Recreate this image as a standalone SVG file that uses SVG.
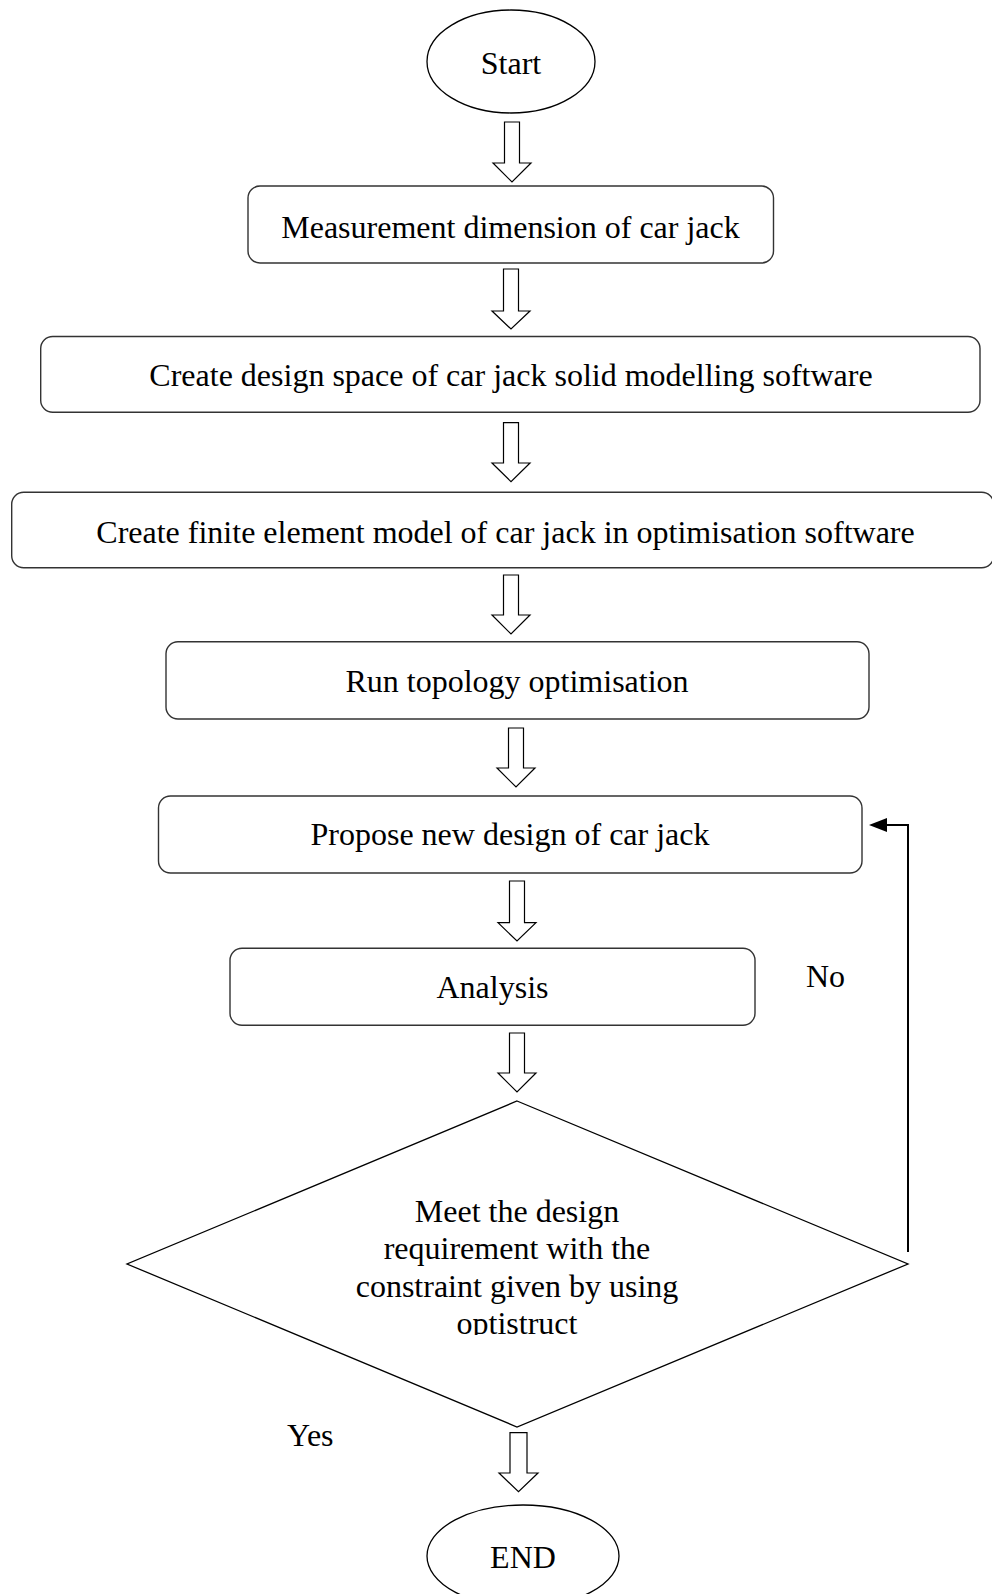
<svg xmlns="http://www.w3.org/2000/svg" width="992" height="1594" viewBox="0 0 992 1594">
<style>
text{font-family:"Liberation Serif","Times New Roman",serif;font-size:32px;fill:#000}
.c{text-anchor:middle}
.box{fill:#fff;stroke:#333;stroke-width:1.4}
.term{fill:#fff;stroke:#000;stroke-width:1.3}
.harrow{fill:#fff;stroke:#000;stroke-width:1.2;stroke-linejoin:miter}
.fb{fill:none;stroke:#000;stroke-width:2}
</style>
<defs>
<clipPath id="dclip"><rect x="127" y="1100" width="781" height="235"/></clipPath>
</defs>
<rect width="992" height="1594" fill="#fff"/>
<g id="start"><ellipse class="term" cx="511" cy="61.5" rx="84" ry="51.5"/><text class="c" x="511" y="74">Start</text></g>
<g id="measure"><rect class="box" x="248" y="186" width="525.5" height="77" rx="12"/><text class="c" x="510.5" y="237.5">Measurement dimension of car jack</text></g>
<g id="designspace"><rect class="box" x="40.7" y="336.5" width="939.3" height="75.8" rx="12"/><text class="c" x="511" y="386">Create design space of car jack solid modelling software</text></g>
<g id="femodel"><rect class="box" x="11.7" y="492.3" width="982" height="75.4" rx="12"/><text class="c" x="505.5" y="543">Create finite element model of car jack in optimisation software</text></g>
<g id="topology"><rect class="box" x="166" y="641.7" width="703" height="77.3" rx="12"/><text class="c" x="517" y="691.5">Run topology optimisation</text></g>
<g id="propose"><rect class="box" x="158.5" y="796" width="703.5" height="77" rx="12"/><text class="c" x="510" y="845">Propose new design of car jack</text></g>
<g id="analysis"><rect class="box" x="230" y="948.3" width="525" height="77" rx="12"/><text class="c" x="492.5" y="998">Analysis</text></g>
<g id="decision"><polygon class="term" points="517,1101 908,1264 517,1427 127,1264"/>
<g clip-path="url(#dclip)"><text class="c" x="517" y="1221.5">Meet the design</text><text class="c" x="517" y="1259">requirement with the</text><text class="c" x="517" y="1296.5">constraint given by using</text><text class="c" x="517" y="1334">optistruct</text></g></g>
<g id="end"><ellipse class="term" cx="523" cy="1556" rx="96" ry="51"/><text class="c" x="523" y="1568">END</text></g>
<g id="labels"><text x="806" y="987">No</text><text x="287" y="1446">Yes</text></g>
<g id="connectors">
<polygon class="harrow" points="504.5,122 519.5,122 519.5,163 531,163 512,182 493,163 504.5,163"/>
<polygon class="harrow" points="503.5,269 518.5,269 518.5,311 530,311 511,329 492,311 503.5,311"/>
<polygon class="harrow" points="503.5,422.7 518.5,422.7 518.5,463 530,463 511,481.7 492,463 503.5,463"/>
<polygon class="harrow" points="503.5,575 518.5,575 518.5,615 530,615 511,634 492,615 503.5,615"/>
<polygon class="harrow" points="508.5,728 523.5,728 523.5,768 535,768 516,787 497,768 508.5,768"/>
<polygon class="harrow" points="509.5,881 524.5,881 524.5,922.7 536,922.7 517,941 498,922.7 509.5,922.7"/>
<polygon class="harrow" points="509.5,1033 524.5,1033 524.5,1073 536,1073 517,1092 498,1073 509.5,1073"/>
<polygon class="harrow" points="510,1432.7 527,1432.7 527,1473 538,1473 518.5,1491.7 499,1473 510,1473"/>
<path class="fb" d="M908,1252 V825 H884"/>
<polygon points="869,825 887,818 887,832" fill="#000"/>
</g>
</svg>
